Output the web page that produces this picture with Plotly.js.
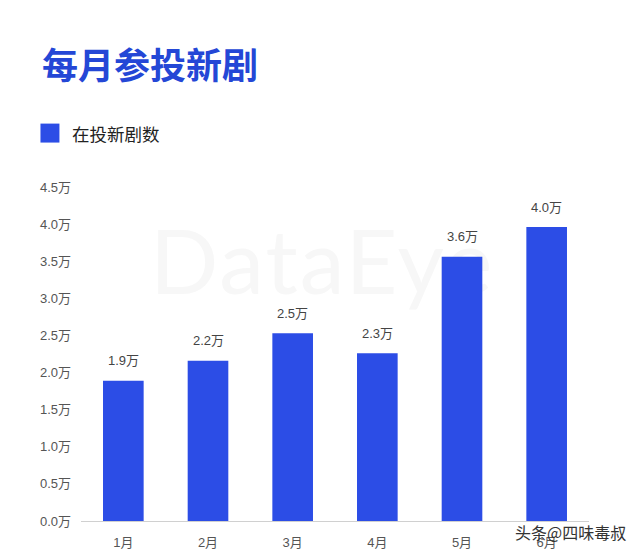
<!DOCTYPE html>
<html>
<head>
<meta charset="utf-8">
<script src="https://cdn.plot.ly/plotly-3.0.1.min.js"></script>
<style>
  html, body { margin: 0; padding: 0; background: #ffffff; }
  #wrap { position: relative; width: 640px; height: 555px; overflow: hidden; }
  #wm { position: absolute; left: 150px; top: 214px; font-family: "Lato", "Open Sans", sans-serif; font-size: 90px; font-weight: 400; color: #f7f7f7; letter-spacing: 2px; z-index: 0; line-height: 1; }
  #chart { position: absolute; left: 0; top: 0; z-index: 1; }
</style>
</head>
<body>
<div id="wrap">
  <div id="wm">DataEye</div>
  <div id="chart"></div>
</div>
<script>
// ---- data ----
var months = ['1月', '2月', '3月', '4月', '5月', '6月'];
var values = [1.89, 2.16, 2.53, 2.26, 3.56, 3.96];
var valueLabels = ['1.9万', '2.2万', '2.5万', '2.3万', '3.6万', '4.0万'];
var seriesName = '在投新剧数';
var chartTitle = '每月参投新剧';
var creditText = '头条@四味毒叔';

var W = 640, H = 555;
var mL = 80.6, mR = 50.6, mT = 186.5, mB = 34;
var pw = W - mL - mR, ph = H - mT - mB;
function px2x(px) { return (px - mL) / pw; }
function py2y(py) { return (H - mB - py) / ph; }

var barColor = '#2c4de6';
var cjk = '"Liberation Sans", Arial, "Noto Sans CJK SC", sans-serif';

var trace = {
  type: 'bar',
  x: months,
  y: values,
  name: seriesName,
  marker: { color: barColor },
  hoverinfo: 'none',
  showlegend: false
};

var annotations = months.map(function (m, i) {
  return {
    x: m, y: values[i], xref: 'x', yref: 'y',
    text: valueLabels[i], showarrow: false,
    yshift: 20, yanchor: 'middle',
    font: { family: cjk, size: 13, color: '#444444' }
  };
});

annotations.push({
  xref: 'paper', yref: 'paper', x: px2x(70), y: py2y(133),
  xanchor: 'left', yanchor: 'middle', showarrow: false,
  text: seriesName,
  font: { family: '"Noto Sans CJK SC", sans-serif', size: 17.5, color: '#222222' }
});

annotations.push({
  xref: 'paper', yref: 'paper', x: px2x(628), y: py2y(532),
  xanchor: 'right', yanchor: 'middle', showarrow: false,
  text: creditText,
  font: { family: '"Noto Sans CJK SC", sans-serif', size: 16, color: '#333333' }
});

var layout = {
  width: W, height: H,
  margin: { l: mL, r: mR, t: mT, b: mB, pad: 0 },
  paper_bgcolor: 'rgba(0,0,0,0)',
  plot_bgcolor: 'rgba(0,0,0,0)',
  title: {
    text: '<b>' + chartTitle + '</b>',
    xref: 'container', yref: 'container',
    x: 42 / W, xanchor: 'left',
    y: 1 - 66.5 / H, yanchor: 'middle',
    font: { family: '"Noto Sans CJK SC", sans-serif', size: 36, color: '#2447d6' }
  },
  bargap: 0.52,
  xaxis: {
    type: 'category',
    showgrid: false, zeroline: false,
    showline: true, linecolor: '#d0d0d0', linewidth: 1,
    ticks: '', ticklabelstandoff: 9,
    tickfont: { family: cjk, size: 13, color: '#555555' },
    fixedrange: true
  },
  yaxis: {
    range: [0, 4.5], dtick: 0.5, tick0: 0,
    tickformat: '.1f', ticksuffix: '万',
    showgrid: false, zeroline: false, showline: false,
    ticks: '', ticklabelstandoff: 9,
    tickfont: { family: cjk, size: 13, color: '#555555' },
    fixedrange: true
  },
  shapes: [{
    type: 'rect', xref: 'paper', yref: 'paper',
    x0: px2x(40), x1: px2x(59), y0: py2y(142), y1: py2y(123),
    fillcolor: barColor, line: { width: 0 }
  }],
  annotations: annotations
};

Plotly.newPlot('chart', [trace], layout, { staticPlot: true, displayModeBar: false });
</script>
</body>
</html>
